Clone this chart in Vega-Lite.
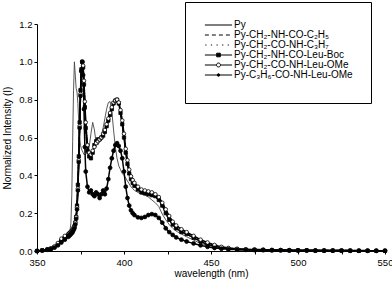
{
  "$schema": "https://vega.github.io/schema/vega-lite/v6.json",
  "width": 348,
  "height": 227,
  "autosize": {"type": "none"},
  "padding": {"left": 37, "top": 24, "right": 7, "bottom": 35},
  "config": {
    "view": {"stroke": null},
    "font": "Liberation Sans",
    "axis": {"grid": false, "domainColor": "black", "tickColor": "black", "labelColor": "black", "titleColor": "black", "labelFont": "Liberation Sans", "titleFont": "Liberation Sans", "labelFontSize": 9.5, "titleFontSize": 10, "titleFontWeight": "normal", "tickSize": 3, "domainWidth": 1, "tickWidth": 1}
  },
  "data": {"values": [
    {"w":350,"py":0,"a":0,"b":0,"c":0,"d":0,"e":0},
    {"w":353,"py":0.003,"a":0.003,"b":0.003,"c":0.003,"d":0.004,"e":0.003},
    {"w":356,"py":0.008,"a":0.008,"b":0.009,"c":0.008,"d":0.009,"e":0.007},
    {"w":358,"py":0.012,"a":0.012,"b":0.013,"c":0.012,"d":0.014,"e":0.011},
    {"w":360,"py":0.02,"a":0.02,"b":0.022,"c":0.02,"d":0.024,"e":0.018},
    {"w":362,"py":0.03,"a":0.035,"b":0.04,"c":0.035,"d":0.042,"e":0.03},
    {"w":364,"py":0.05,"a":0.055,"b":0.06,"c":0.055,"d":0.065,"e":0.045},
    {"w":366,"py":0.065,"a":0.07,"b":0.075,"c":0.07,"d":0.08,"e":0.06},
    {"w":368,"py":0.08,"a":0.085,"b":0.088,"c":0.085,"d":0.09,"e":0.075},
    {"w":368.5,"py":0.095,"a":0.09,"b":0.092,"c":0.09,"d":0.094,"e":0.08},
    {"w":369,"py":0.11,"a":0.095,"b":0.096,"c":0.095,"d":0.098,"e":0.085},
    {"w":369.5,"py":0.15,"a":0.1,"b":0.1,"c":0.1,"d":0.102,"e":0.09},
    {"w":370,"py":0.3,"a":0.105,"b":0.105,"c":0.105,"d":0.107,"e":0.095},
    {"w":370.5,"py":0.58,"a":0.11,"b":0.11,"c":0.11,"d":0.112,"e":0.1},
    {"w":371,"py":0.85,"a":0.12,"b":0.12,"c":0.12,"d":0.12,"e":0.11},
    {"w":371.5,"py":1.0,"a":0.13,"b":0.13,"c":0.13,"d":0.13,"e":0.12},
    {"w":372,"py":0.93,"a":0.15,"b":0.15,"c":0.15,"d":0.15,"e":0.14},
    {"w":372.5,"py":0.86,"a":0.18,"b":0.18,"c":0.18,"d":0.18,"e":0.17},
    {"w":373,"py":0.84,"a":0.24,"b":0.24,"c":0.24,"d":0.23,"e":0.22},
    {"w":373.5,"py":0.78,"a":0.35,"b":0.35,"c":0.35,"d":0.33,"e":0.32},
    {"w":374,"py":0.68,"a":0.5,"b":0.5,"c":0.5,"d":0.48,"e":0.47},
    {"w":374.5,"py":0.6,"a":0.68,"b":0.67,"c":0.68,"d":0.66,"e":0.65},
    {"w":375,"py":0.56,"a":0.85,"b":0.84,"c":0.85,"d":0.83,"e":0.82},
    {"w":375.5,"py":0.54,"a":0.96,"b":0.95,"c":0.96,"d":0.95,"e":0.95},
    {"w":376,"py":0.53,"a":1.0,"b":1.0,"c":1.0,"d":1.0,"e":1.0},
    {"w":376.5,"py":0.52,"a":0.97,"b":0.97,"c":0.97,"d":0.98,"e":0.93},
    {"w":377,"py":0.51,"a":0.88,"b":0.89,"c":0.88,"d":0.9,"e":0.75},
    {"w":377.5,"py":0.51,"a":0.76,"b":0.78,"c":0.76,"d":0.79,"e":0.55},
    {"w":378,"py":0.51,"a":0.65,"b":0.67,"c":0.65,"d":0.68,"e":0.42},
    {"w":379,"py":0.52,"a":0.53,"b":0.55,"c":0.53,"d":0.56,"e":0.34},
    {"w":380,"py":0.55,"a":0.5,"b":0.51,"c":0.5,"d":0.52,"e":0.31},
    {"w":381,"py":0.62,"a":0.49,"b":0.5,"c":0.49,"d":0.51,"e":0.32},
    {"w":382,"py":0.68,"a":0.52,"b":0.52,"c":0.52,"d":0.53,"e":0.3},
    {"w":383,"py":0.64,"a":0.56,"b":0.55,"c":0.56,"d":0.55,"e":0.29},
    {"w":384,"py":0.57,"a":0.58,"b":0.57,"c":0.58,"d":0.57,"e":0.31},
    {"w":385,"py":0.56,"a":0.59,"b":0.58,"c":0.59,"d":0.58,"e":0.3},
    {"w":386,"py":0.58,"a":0.59,"b":0.59,"c":0.59,"d":0.59,"e":0.28},
    {"w":387,"py":0.61,"a":0.6,"b":0.6,"c":0.6,"d":0.6,"e":0.3},
    {"w":388,"py":0.65,"a":0.61,"b":0.61,"c":0.61,"d":0.62,"e":0.32},
    {"w":389,"py":0.7,"a":0.63,"b":0.63,"c":0.63,"d":0.64,"e":0.3},
    {"w":390,"py":0.75,"a":0.66,"b":0.66,"c":0.66,"d":0.67,"e":0.33},
    {"w":391,"py":0.785,"a":0.69,"b":0.69,"c":0.69,"d":0.7,"e":0.38},
    {"w":392,"py":0.79,"a":0.72,"b":0.72,"c":0.72,"d":0.73,"e":0.44},
    {"w":393,"py":0.74,"a":0.75,"b":0.75,"c":0.75,"d":0.76,"e":0.49},
    {"w":394,"py":0.64,"a":0.78,"b":0.78,"c":0.78,"d":0.785,"e":0.53},
    {"w":395,"py":0.55,"a":0.795,"b":0.79,"c":0.795,"d":0.795,"e":0.56},
    {"w":396,"py":0.49,"a":0.8,"b":0.795,"c":0.8,"d":0.8,"e":0.57},
    {"w":397,"py":0.45,"a":0.78,"b":0.78,"c":0.78,"d":0.785,"e":0.555},
    {"w":398,"py":0.43,"a":0.73,"b":0.74,"c":0.73,"d":0.745,"e":0.53},
    {"w":399,"py":0.41,"a":0.67,"b":0.68,"c":0.67,"d":0.69,"e":0.49},
    {"w":400,"py":0.4,"a":0.6,"b":0.61,"c":0.6,"d":0.62,"e":0.42},
    {"w":401,"py":0.385,"a":0.52,"b":0.53,"c":0.52,"d":0.54,"e":0.34},
    {"w":402,"py":0.37,"a":0.46,"b":0.47,"c":0.46,"d":0.48,"e":0.28},
    {"w":403,"py":0.355,"a":0.41,"b":0.42,"c":0.41,"d":0.43,"e":0.24},
    {"w":404,"py":0.34,"a":0.38,"b":0.39,"c":0.38,"d":0.395,"e":0.215},
    {"w":405,"py":0.33,"a":0.36,"b":0.37,"c":0.36,"d":0.375,"e":0.2},
    {"w":406,"py":0.32,"a":0.345,"b":0.355,"c":0.345,"d":0.36,"e":0.19},
    {"w":408,"py":0.31,"a":0.325,"b":0.335,"c":0.325,"d":0.34,"e":0.178},
    {"w":410,"py":0.3,"a":0.31,"b":0.32,"c":0.31,"d":0.325,"e":0.175},
    {"w":412,"py":0.295,"a":0.305,"b":0.315,"c":0.305,"d":0.32,"e":0.18},
    {"w":414,"py":0.285,"a":0.3,"b":0.31,"c":0.3,"d":0.315,"e":0.19},
    {"w":416,"py":0.27,"a":0.295,"b":0.305,"c":0.295,"d":0.31,"e":0.195},
    {"w":418,"py":0.255,"a":0.29,"b":0.3,"c":0.29,"d":0.3,"e":0.19},
    {"w":420,"py":0.235,"a":0.27,"b":0.28,"c":0.27,"d":0.285,"e":0.175},
    {"w":422,"py":0.195,"a":0.24,"b":0.25,"c":0.24,"d":0.255,"e":0.15},
    {"w":424,"py":0.165,"a":0.2,"b":0.215,"c":0.2,"d":0.22,"e":0.12},
    {"w":426,"py":0.14,"a":0.165,"b":0.18,"c":0.165,"d":0.185,"e":0.1},
    {"w":428,"py":0.12,"a":0.14,"b":0.15,"c":0.14,"d":0.155,"e":0.085},
    {"w":430,"py":0.105,"a":0.12,"b":0.13,"c":0.12,"d":0.135,"e":0.072},
    {"w":433,"py":0.09,"a":0.1,"b":0.11,"c":0.1,"d":0.115,"e":0.06},
    {"w":436,"py":0.075,"a":0.09,"b":0.095,"c":0.09,"d":0.1,"e":0.05},
    {"w":440,"py":0.058,"a":0.07,"b":0.075,"c":0.07,"d":0.08,"e":0.04},
    {"w":444,"py":0.04,"a":0.05,"b":0.055,"c":0.05,"d":0.06,"e":0.03},
    {"w":448,"py":0.03,"a":0.035,"b":0.04,"c":0.035,"d":0.045,"e":0.022},
    {"w":452,"py":0.022,"a":0.025,"b":0.028,"c":0.025,"d":0.032,"e":0.016},
    {"w":456,"py":0.015,"a":0.018,"b":0.02,"c":0.018,"d":0.022,"e":0.012},
    {"w":460,"py":0.01,"a":0.012,"b":0.014,"c":0.012,"d":0.016,"e":0.009},
    {"w":465,"py":0.008,"a":0.009,"b":0.01,"c":0.009,"d":0.012,"e":0.007},
    {"w":470,"py":0.006,"a":0.007,"b":0.008,"c":0.007,"d":0.009,"e":0.006},
    {"w":475,"py":0.005,"a":0.006,"b":0.007,"c":0.006,"d":0.008,"e":0.005},
    {"w":480,"py":0.004,"a":0.005,"b":0.006,"c":0.005,"d":0.007,"e":0.005},
    {"w":485,"py":0.004,"a":0.004,"b":0.005,"c":0.004,"d":0.006,"e":0.004},
    {"w":490,"py":0.003,"a":0.004,"b":0.005,"c":0.004,"d":0.005,"e":0.004},
    {"w":495,"py":0.003,"a":0.003,"b":0.004,"c":0.003,"d":0.005,"e":0.003},
    {"w":500,"py":0.003,"a":0.003,"b":0.004,"c":0.003,"d":0.004,"e":0.003},
    {"w":505,"py":0.002,"a":0.003,"b":0.003,"c":0.003,"d":0.004,"e":0.003},
    {"w":510,"py":0.002,"a":0.002,"b":0.003,"c":0.002,"d":0.003,"e":0.002},
    {"w":515,"py":0.002,"a":0.002,"b":0.003,"c":0.002,"d":0.003,"e":0.002},
    {"w":520,"py":0.002,"a":0.002,"b":0.002,"c":0.002,"d":0.003,"e":0.002},
    {"w":525,"py":0.001,"a":0.002,"b":0.002,"c":0.002,"d":0.002,"e":0.002},
    {"w":530,"py":0.001,"a":0.002,"b":0.002,"c":0.002,"d":0.002,"e":0.001},
    {"w":535,"py":0.001,"a":0.001,"b":0.002,"c":0.001,"d":0.002,"e":0.001},
    {"w":540,"py":0.001,"a":0.001,"b":0.001,"c":0.001,"d":0.002,"e":0.001},
    {"w":545,"py":0.001,"a":0.001,"b":0.001,"c":0.001,"d":0.001,"e":0.001},
    {"w":550,"py":0.001,"a":0.001,"b":0.001,"c":0.001,"d":0.001,"e":0.001}
  ]},
  "transform": [{"fold": ["py", "a", "b", "c", "d", "e"], "as": ["s", "i"]}],
  "encoding": {
    "x": {"field": "w", "type": "quantitative", "scale": {"domain": [350, 550], "nice": false},
      "axis": {"title": "wavelength (nm)", "values": [350, 375, 400, 425, 450, 475, 500, 525, 550], "labelExpr": "datum.value % 50 == 0 ? datum.label : ''", "labelPadding": 3, "titlePadding": 2, "labelFlush": false}},
    "y": {"field": "i", "type": "quantitative", "scale": {"domain": [0, 1.2], "nice": false},
      "axis": {"title": "Normalized Intensity (I)", "values": [0, 0.2, 0.4, 0.6, 0.8, 1.0, 1.2], "format": ".1f", "labelPadding": 2, "titlePadding": 6}}
  },
  "resolve": {"scale": {"shape": "independent", "fill": "independent"}, "legend": {"shape": "independent", "fill": "independent"}},
  "layer": [
    {
      "transform": [{"filter": "datum.s == 'py'"}],
      "mark": {"type": "line", "color": "#444444", "strokeWidth": 0.9}
    },
    {
      "transform": [{"filter": "datum.s != 'py'"}],
      "mark": {"type": "line", "color": "black", "strokeWidth": 1.5},
      "encoding": {
        "strokeDash": {"field": "s", "type": "nominal",
          "scale": {"domain": ["a", "b", "c", "d", "e"], "range": [[4, 3], [1, 2], [1, 0], [1, 0], [1, 0]]},
          "legend": null}
      }
    },
    {
      "transform": [{"filter": "datum.s == 'c' || datum.s == 'd' || datum.s == 'e'"}],
      "mark": {"type": "point", "filled": true, "stroke": "black", "strokeWidth": 0.8, "opacity": 1},
      "encoding": {
        "shape": {"field": "s", "type": "nominal", "scale": {"domain": ["c", "d", "e"], "range": ["square", "circle", "circle"]}, "legend": null},
        "fill": {"field": "s", "type": "nominal", "scale": {"domain": ["c", "d", "e"], "range": ["black", "white", "black"]}, "legend": null},
        "size": {"field": "s", "type": "nominal", "scale": {"domain": ["c", "d", "e"], "range": [11, 15, 7]}, "legend": null}
      }
    },
    {
      "transform": [{"filter": "false"}],
      "mark": {"type": "point", "stroke": "black", "strokeWidth": 1, "size": 64, "opacity": 1},
      "encoding": {
        "shape": {"field": "s", "type": "nominal",
          "scale": {"domain": ["py", "a", "b", "c", "d", "e"], "range": [
            "M-3.4,0H3.4",
            "M-3.4,0H-2.4M-1.65,0H-0.65M0.1,0H1.1M1.85,0H2.85",
            "M-3.3,0H-3.0M-1.9,0H-1.6M-0.5,0H-0.2M0.9,0H1.2M2.3,0H2.6",
            "M-3.4,0H3.4M-0.45,-0.45H0.45V0.45H-0.45Z",
            "M-3.4,0H-0.5A0.5,0.5,0,1,1,0.5,0A0.5,0.5,0,1,1,-0.5,0M0.5,0H3.4",
            "M-3.4,0H3.4M-0.32,0A0.32,0.32,0,1,1,0.32,0A0.32,0.32,0,1,1,-0.32,0Z"
          ]},
          "legend": {
            "title": " ", "titleOrient": "bottom", "titleFontSize": 5, "titlePadding": 0,
            "orient": "none", "legendX": 148, "legendY": -22,
            "strokeColor": "black", "fillColor": "white", "padding": 18,
            "symbolSize": 64, "symbolStrokeWidth": 1, "symbolOffset": 10.5,
            "labelOffset": 10.5, "labelFontSize": 10, "labelFont": "Liberation Sans", "labelColor": "black",
            "rowPadding": -0.5,
            "labelExpr": "{'py':'Py','a':'Py-CH₂-NH-CO-C₂H₅','b':'Py-CH₂-CO-NH-C₃H₇','c':'Py-CH₂-NH-CO-Leu-Boc','d':'Py-CH₂-CO-NH-Leu-OMe','e':'Py-C₃H₆-CO-NH-Leu-OMe'}[datum.value]"
          }},
        "fill": {"field": "s", "type": "nominal",
          "scale": {"domain": ["py", "a", "b", "c", "d", "e"], "range": ["transparent", "transparent", "transparent", "black", "white", "black"]},
          "legend": {
            "title": " ", "titleOrient": "bottom", "titleFontSize": 5, "titlePadding": 0,
            "orient": "none", "legendX": 148, "legendY": -22,
            "strokeColor": "black", "fillColor": "white", "padding": 18,
            "symbolSize": 64, "symbolStrokeWidth": 1, "symbolOffset": 10.5,
            "labelOffset": 10.5, "labelFontSize": 10, "labelFont": "Liberation Sans", "labelColor": "black",
            "rowPadding": -0.5,
            "labelExpr": "{'py':'Py','a':'Py-CH₂-NH-CO-C₂H₅','b':'Py-CH₂-CO-NH-C₃H₇','c':'Py-CH₂-NH-CO-Leu-Boc','d':'Py-CH₂-CO-NH-Leu-OMe','e':'Py-C₃H₆-CO-NH-Leu-OMe'}[datum.value]"
          }}
      }
    }
  ]
}
